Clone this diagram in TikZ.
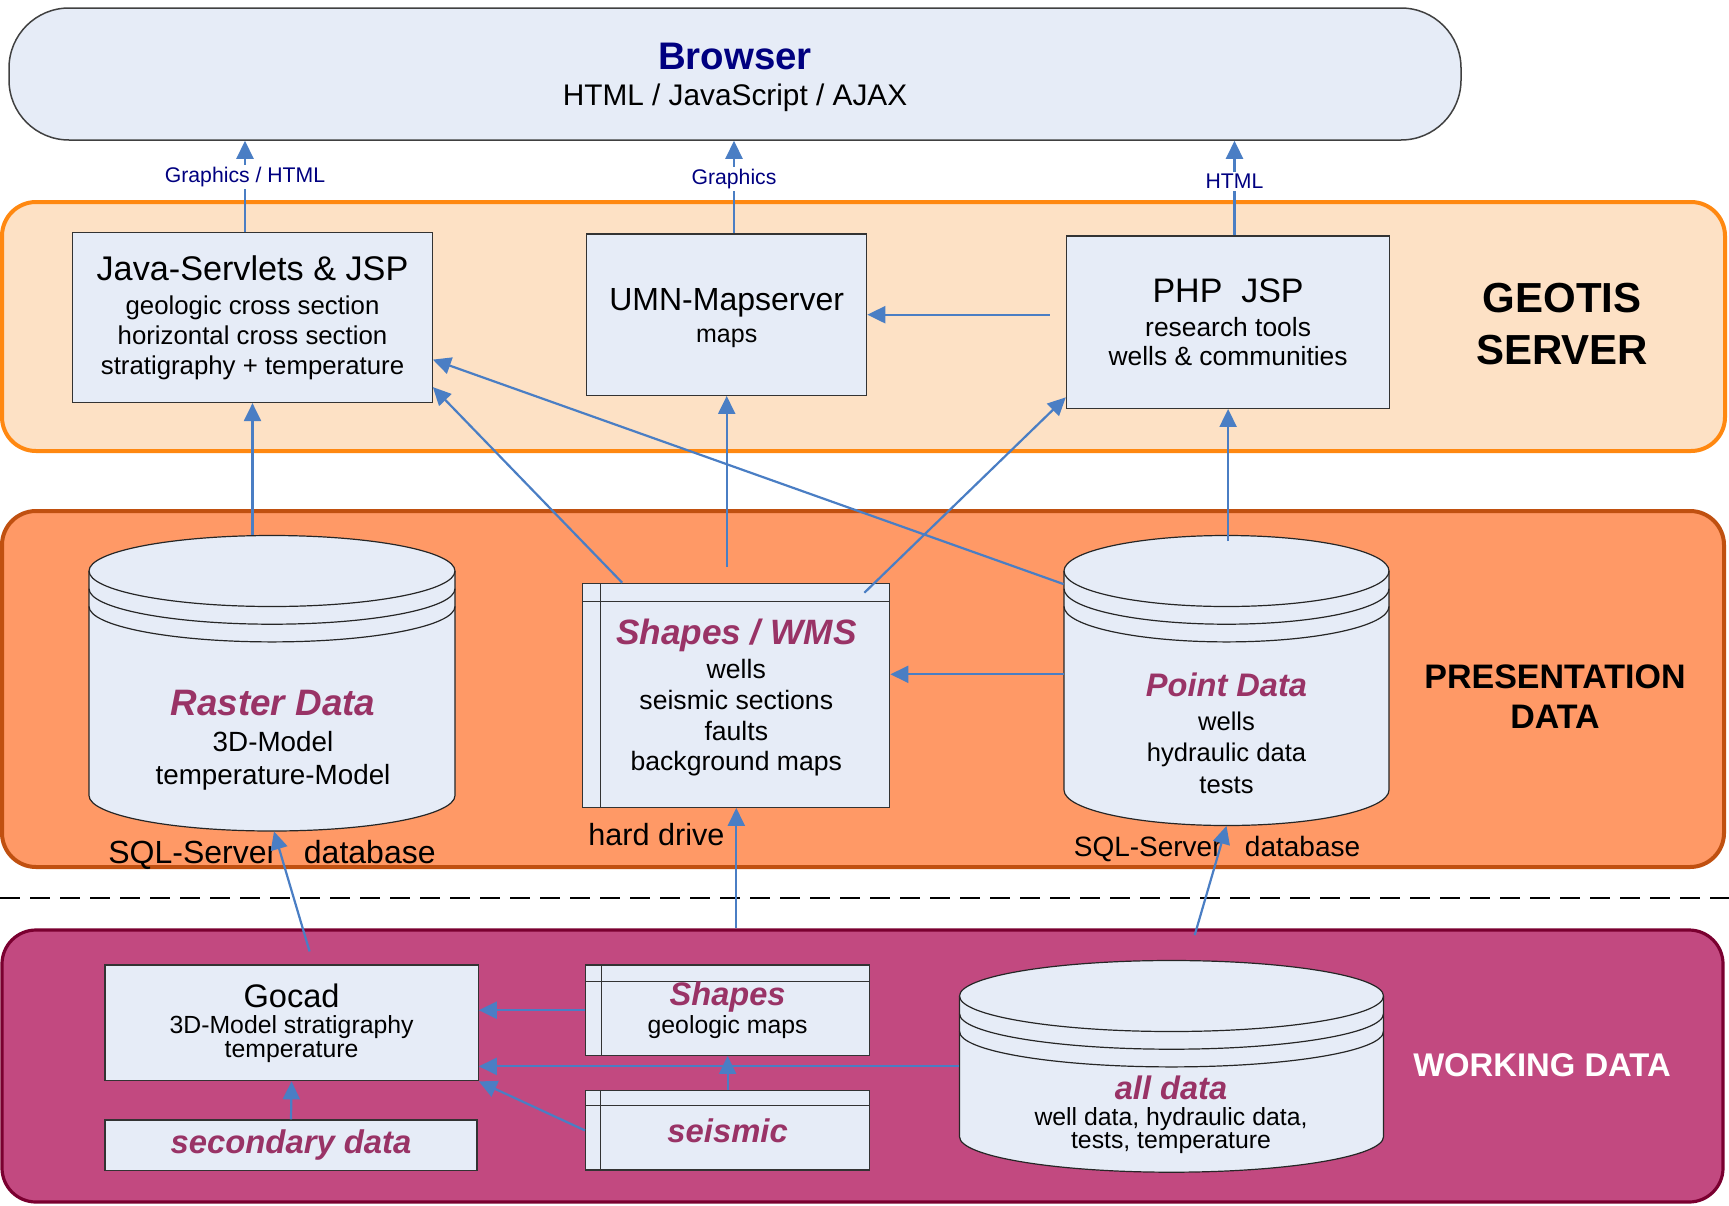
\documentclass[tikz,border=0pt]{standalone}
\usepackage{fontspec}
\setmainfont{Liberation Sans}
\definecolor{boxfill}{RGB}{230,236,247}
\definecolor{arrowblue}{RGB}{74,126,196}
\definecolor{navytext}{RGB}{0,0,128}
\definecolor{winetext}{RGB}{153,51,102}
\definecolor{serverfill}{RGB}{253,225,197}
\definecolor{serverline}{RGB}{255,136,17}
\definecolor{presfill}{RGB}{255,153,102}
\definecolor{presline}{RGB}{192,80,16}
\definecolor{workfill}{RGB}{194,73,128}
\definecolor{workline}{RGB}{122,0,48}
\usetikzlibrary{positioning,shapes,arrows.meta,calc}
\newcommand{\fsz}[2]{\fontsize{#1}{#2}\selectfont}
\newcommand{\dtitle}[2]{{\fsz{#1}{#1}\bfseries\itshape\color{winetext}#2}}
% database drum: name, centre x, top ellipse y, bottom ellipse y, x radius (px)
\newcommand{\dbdrum}[5]{%
  \draw[drum] (#2-#5,#3) -- (#2-#5,#4)
    arc[start angle=180, end angle=360, x radius=#5*0.5pt, y radius=17.75pt]
    -- (#2+#5,#3)
    arc[start angle=0, end angle=180, x radius=#5*0.5pt, y radius=17.75pt] -- cycle;
  \foreach \dy in {0,17.7,35.4}
    \draw[drum, fill=none] (#2-#5,#3+\dy) arc[start angle=180, end angle=360, x radius=#5*0.5pt, y radius=17.75pt];
  \node[inner sep=0pt, minimum width=#5pt, minimum height={(#4-#3+71)*0.5pt}] (#1) at (#2,{(#3+#4)/2}) {};
}

\begin{document}
\begin{tikzpicture}[x=0.5pt, y=-0.5pt,
    >={Triangle[length=9pt,width=8.5pt]},
    box/.style={draw=black!80, fill=boxfill, line width=0.6pt, inner sep=0pt, align=center},
    filebox/.style={box, path picture={
        \draw[line width=0.5pt, black!80] ([yshift=-#1]path picture bounding box.north west) -- ([yshift=-#1]path picture bounding box.north east);
        \draw[line width=0.5pt, black!80] ([xshift=#1]path picture bounding box.north west) -- ([xshift=#1]path picture bounding box.south west);}},
    drum/.style={draw=black!85, fill=boxfill, line width=0.6pt},
    layer/.style={line width=2pt, inner sep=0pt, rounded corners=17pt},
    flow/.style={arrowblue, line width=1.1pt},
    lbl/.style={font=\fsz{10.6}{12}, text=navytext, fill=white, inner sep=1pt}]
    \useasboundingbox (0,0) rectangle (1729,1205);

    % the three layers
    \node[layer, draw=serverline, fill=serverfill, minimum width=861.5pt, minimum height=124.5pt] (geotis) at (863.5,326.5) {};
    \node[layer, draw=presline, fill=presfill, minimum width=861pt, minimum height=178pt] (presentation) at (863,689) {};
    \node[layer, draw=workline, line width=1.6pt, fill=workfill, minimum width=860.5pt, minimum height=136pt] (working) at (862.5,1066) {};
    \coordinate (cutL) at (0,898);
    \coordinate (cutR) at (1729,898);
    \draw[line width=1pt, dash pattern=on 10pt off 5pt] (cutL) -- (cutR);

    % client
    \node[draw=black!75, line width=0.75pt, fill=boxfill, rounded corners=30pt, minimum width=726pt, minimum height=66pt, align=center, font=\fsz{14.9}{17}] (browser) at (735,74) {{\fsz{19.2}{19.2}\bfseries\color{navytext}\rule{0pt}{16.6pt}Browser}\\[0.6pt]HTML / JavaScript / AJAX};

    % server
    \node[box, minimum width=179.75pt, minimum height=84.9pt, font=\fsz{12.9}{15}] (java) at (252.5,317.6) {{\fsz{17.1}{17.1}Java-Servlets \& JSP}\\[1.7pt]geologic cross section\\horizontal cross section\\stratigraphy + temperature};
    \node[box, minimum width=140pt, minimum height=80.65pt, font=\fsz{12.5}{15}] (umn) at (726.7,314.7) {{\fsz{16}{16}\rule{0pt}{14.3pt}UMN-Mapserver}\\[0.95pt]maps};
    \node[box, minimum width=161.7pt, minimum height=86.15pt, font=\fsz{13.2}{14.5}] (php) at (1228.1,322.2) {{\fsz{17}{17}PHP~~JSP}\\[2.75pt]research tools\\wells \& communities};
    \node[font=\fsz{21}{25.9}\bfseries, align=center] (geotislbl) at (1562,324) {GEOTIS\\SERVER};

    % presentation data
    \dbdrum{raster}{272}{571}{795.5}{183}
    \node[font=\fsz{13.9}{16.55}, align=center] (rastertxt) at (273,740.2) {\dtitle{18.4}{Raster Data}\\[1.1pt]3D-Model\\temperature-Model};
    \node[font=\fsz{16}{16}] (rastersql) at (272,855.3) {SQL-Server\ \ \ database};
    \node[filebox=9pt, minimum width=153.5pt, minimum height=112pt, font=\fsz{13.3}{15.4}] (wms) at (736.3,695.3) {\dtitle{17.6}{\rule{0pt}{15pt}Shapes / WMS}\\[1.7pt]wells\\seismic sections\\faults\\background maps};
    \node[font=\fsz{15.3}{15.3}] (hdd) at (656.5,835) {hard drive};
    \dbdrum{point}{1226.5}{571}{790}{162.5}
    \node[font=\fsz{12.8}{15.8}, align=center] (pointtxt) at (1226.5,733.2) {\dtitle{16.3}{Point Data}\\[1pt]wells\\hydraulic data\\tests};
    \node[font=\fsz{14}{14}] (pointsql) at (1217,849.2) {SQL-Server\ \ \ database};
    \node[font=\fsz{17}{20}\bfseries, align=center] (preslbl) at (1555,697) {PRESENTATION\\DATA};

    % working data
    \node[box, minimum width=186.6pt, minimum height=57.85pt, font=\fsz{12.4}{12}] (gocad) at (291.6,1022.9) {{\fsz{16.3}{16.3}Gocad}\\[1pt]3D-Model stratigraphy\\temperature};
    \node[box, minimum width=186pt, minimum height=25.35pt] (secondary) at (291,1145.4) {\dtitle{16.4}{secondary data}};
    \node[filebox=8pt, minimum width=142.1pt, minimum height=45.15pt, font=\fsz{12.4}{12}] (shp) at (727.6,1010.2) {\dtitle{16.3}{Shapes}\\[0.5pt]geologic maps};
    \node[filebox=7.5pt, minimum width=142.1pt, minimum height=39.65pt] (seismic) at (727.6,1130.4) {\dtitle{16.4}{seismic}};
    \dbdrum{alldata}{1171.5}{996}{1136.7}{212}
    \node[font=\fsz{12.4}{11.8}, align=center] (alltxt) at (1171,1115) {\dtitle{16.3}{all data}\\[1pt]well data, hydraulic data,\\tests, temperature};
    \node[font=\fsz{16.4}{16.4}\bfseries, text=white] (worklbl) at (1542,1065) {WORKING DATA};

    % server -> browser
    \draw[flow,->] ([xshift=-3.75pt]java.north) -- ([xshift=-3.75pt]java.north |- browser.south) node[lbl, pos=0.6] (gfxhtml) {Graphics / HTML};
    \draw[flow,->] ([xshift=3.65pt]umn.north) -- ([xshift=3.65pt]umn.north |- browser.south) node[lbl, pos=0.59] (gfx) {Graphics};
    \draw[flow,->] ([xshift=3.2pt]php.north) -- ([xshift=3.2pt]php.north |- browser.south) node[lbl, pos=0.57] (html) {HTML};
    \draw[flow,->] ([xshift=-8pt]php.west |- umn.east) -- (umn.east);

    % presentation -> server
    \draw[flow,->] (raster.north -| java.south) -- (java.south);
    \draw[flow,->] ([xshift=20pt]wms.north west) -- ([yshift=8pt]java.south east);
    \draw[flow,->] ([yshift=-24.5pt]point.north west) -- ([yshift=-21pt]java.east);
    \draw[flow,->] ([yshift=8pt]wms.north -| umn.south) -- (umn.south);
    \draw[flow,->] ([xshift=-13pt,yshift=-5pt]wms.north east) -- ([yshift=5.8pt]php.south west);
    \draw[flow,->] ([yshift=-3pt]point.north -| php.south) -- (php.south);
    \draw[flow,->] ([yshift=10.5pt]wms.east -| point.west) -- ([yshift=10.5pt]wms.east);

    % working -> presentation
    \draw[flow,->] ([xshift=9pt,yshift=6.5pt]gocad.north) -- ([xshift=1pt]raster.south);
    \draw[flow,->] (working.north -| wms.south) -- (wms.south);
    \draw[flow,->] ([xshift=11.6pt,yshift=12.5pt]alldata.north) -- (point.south);

    % inside working data
    \draw[flow,->] (shp.west) -- (shp.west -| gocad.east);
    \draw[flow,->] (alldata.west) -- (alldata.west -| gocad.east);
    \draw[flow,->] (seismic.north) -- (shp.south);
    \draw[flow,->] (seismic.west) -- (gocad.south east);
    \draw[flow,->] (secondary.north) -- (gocad.south);
\end{tikzpicture}
\end{document}
